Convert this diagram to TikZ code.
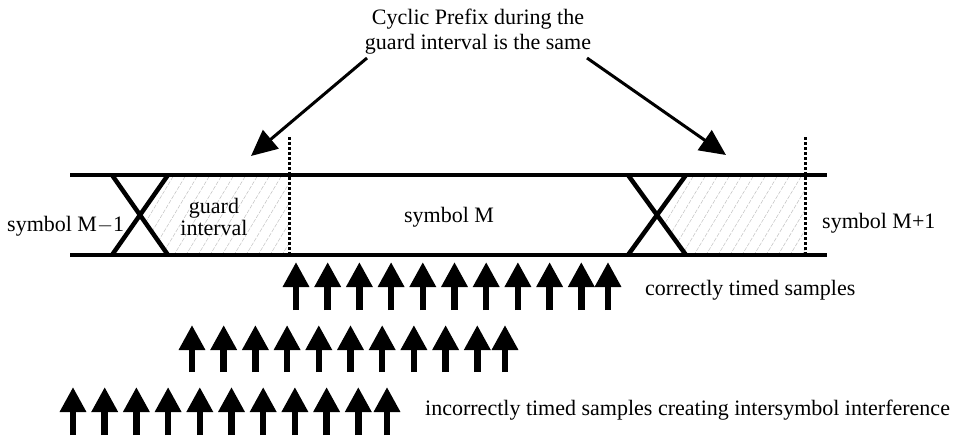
\documentclass[tikz,border=0pt]{standalone}
\usepackage{fontspec}
\setmainfont{Liberation Serif}
\usetikzlibrary{arrows.meta}
\begin{document}
\begin{tikzpicture}[x=1pt,y=-1pt,
  lbl/.style={inner sep=0pt,font=\fontsize{22}{25}\selectfont},
  bar/.style={line width=4pt},
  xline/.style={line width=4.5pt},
  dotline/.style={line width=3pt,dash pattern=on 3pt off 2pt},
  hatch/.style={gray!50,line width=0.5pt,dash pattern=on 4pt off 1.5pt},
  pointer/.style={line width=3pt,-{Triangle[width=24pt,length=26pt]}},
  sample/.style={line width=6.5pt,-{Triangle[width=25pt,length=25pt]}}]
\useasboundingbox (0,0) rectangle (959,436);

% hatched guard intervals
\begin{scope}
  \clip (140,215) -- (168,175) -- (289,175) -- (289,255) -- (168,255) -- cycle;
  \foreach \i in {0,...,22} {\draw[hatch] (60+12*\i,265) -- ++(60,-100);}
\end{scope}
\begin{scope}
  \clip (657,215) -- (686,175) -- (805,175) -- (805,255) -- (686,255) -- cycle;
  \foreach \i in {0,...,22} {\draw[hatch] (580+12*\i,265) -- ++(60,-100);}
\end{scope}

% rails
\draw[bar] (70,175) -- (827,175);
\draw[bar] (70,255) -- (827,255);
% crossings
\draw[xline] (112,175) -- (168,255);
\draw[xline] (168,175) -- (112,255);
\draw[xline] (628,175) -- (686,255);
\draw[xline] (686,175) -- (628,255);
% symbol boundaries
\draw[dotline] (289,137) -- (289,255);
\draw[dotline] (805,137) -- (805,255);

% labels
\node[lbl,anchor=base west] (sm1) at (7,231) {symbol M$-$1};
\node[lbl,anchor=base,align=center,font=\fontsize{22}{22}\selectfont] (gi) at (214,235) {guard\\interval};
\node[lbl,anchor=base] (sm) at (449,222) {symbol M};
\node[lbl,anchor=base west] (sp1) at (822,228) {symbol M+1};
\node[lbl,anchor=base,align=center] (cp) at (478,50) {Cyclic Prefix during the\\guard interval is the same};

\coordinate (p1s) at (367,58);
\coordinate (p1e) at (251,156);
\coordinate (p2s) at (587,58);
\coordinate (p2e) at (726,155);
\draw[pointer] (p1s) -- (p1e);
\draw[pointer] (p2s) -- (p2e);

% sample rows
\foreach \x in {296,327.7,359.4,391.1,422.8,454.5,486.2,517.9,549.6,581.3,608} {\draw[sample] (\x,310) -- (\x,262);}
\foreach \x in {192,223.7,255.4,287.1,318.8,350.5,382.2,413.9,445.6,477.3,505} {\draw[sample] (\x,372) -- (\x,325);}
\foreach \x in {73,104.7,136.4,168.1,199.8,231.5,263.2,294.9,326.6,358.3,387} {\draw[sample] (\x,435) -- (\x,387);}

\node[lbl,anchor=base west] (ct) at (645,295) {correctly timed samples};
\node[lbl,anchor=base west] (it) at (425,415) {incorrectly timed samples creating intersymbol interference};
\end{tikzpicture}
\end{document}
